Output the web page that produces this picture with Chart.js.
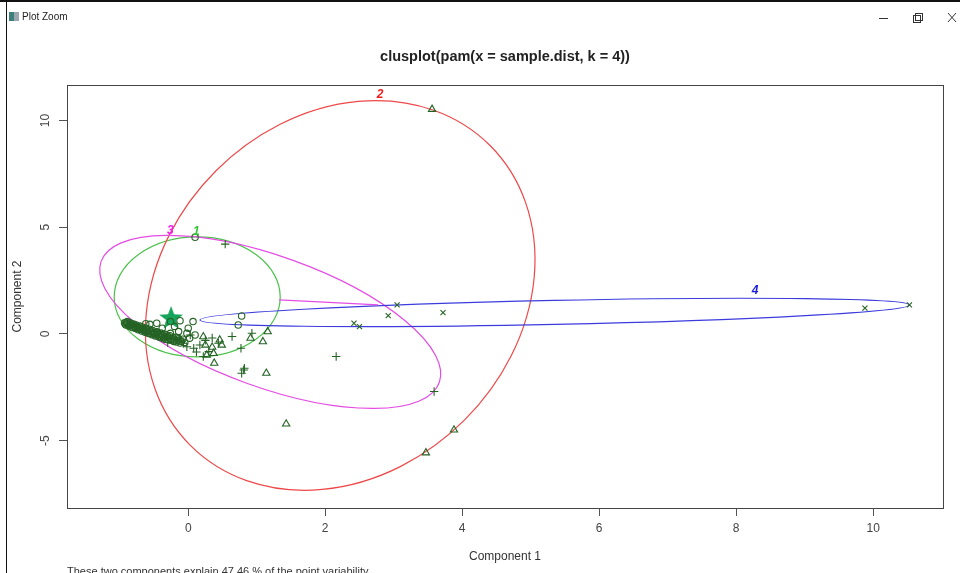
<!DOCTYPE html>
<html>
<head>
<meta charset="utf-8">
<script src="https://cdn.jsdelivr.net/npm/chart.js@4.4.1/dist/chart.umd.min.js"></script>
<style>
  html, body { margin: 0; padding: 0; background: #fff; }
  #wrap { position: relative; width: 960px; height: 573px; }
</style>
</head>
<body>
<div id="wrap"><canvas id="clusChart"></canvas></div>
<script>
// axis ticks
const xTicks = [0, 2, 4, 6, 8, 10];
const yTicks = [-5, 0, 5, 10];

// points per cluster [component1, component2]
const cluster1 = [
  [-0.93, 0.52], [-0.91, 0.42], [-0.89, 0.58], [-0.88, 0.47], [-0.86, 0.36], [-0.85, 0.52],
  [-0.83, 0.42], [-0.82, 0.30], [-0.80, 0.46], [-0.79, 0.36], [-0.77, 0.25], [-0.76, 0.42],
  [-0.74, 0.30], [-0.73, 0.20], [-0.71, 0.37], [-0.70, 0.26], [-0.68, 0.14], [-0.67, 0.32],
  [-0.65, 0.20], [-0.63, 0.08], [-0.62, 0.27], [-0.60, 0.14], [-0.58, 0.02], [-0.57, 0.22],
  [-0.55, 0.09], [-0.53, -0.04], [-0.52, 0.16], [-0.50, 0.03], [-0.48, -0.10], [-0.46, 0.10],
  [-0.44, -0.03], [-0.42, -0.16], [-0.40, 0.04], [-0.38, -0.09], [-0.36, -0.22], [-0.34, -0.02],
  [-0.31, -0.16], [-0.29, -0.29], [-0.27, -0.08], [-0.24, -0.22], [-0.21, -0.35], [-0.18, -0.16],
  [-0.15, -0.30], [-0.12, -0.43], [-0.08, -0.25], [-0.05, -0.40],
  [-0.92, 0.47], [-0.90, 0.53], [-0.87, 0.41], [-0.84, 0.47], [-0.81, 0.38], [-0.78, 0.31],
  [-0.75, 0.36], [-0.72, 0.28], [-0.69, 0.21], [-0.66, 0.25], [-0.64, 0.15], [-0.61, 0.10],
  [-0.59, 0.20], [-0.56, 0.03], [-0.54, 0.13], [-0.51, -0.02], [-0.49, 0.07], [-0.47, -0.05],
  [-0.45, 0.05], [-0.43, -0.10], [-0.41, -0.02], [-0.39, -0.15], [-0.37, -0.05], [-0.35, -0.15],
  [-0.33, -0.25], [-0.30, -0.10], [-0.28, -0.20], [-0.25, -0.30], [-0.22, -0.18], [-0.20, -0.28],
  [-0.17, -0.38], [-0.14, -0.22], [-0.10, -0.35],
  [-0.46, 0.50], [-0.38, 0.27], [-0.26, 0.58], [-0.26, 0.03], [-0.14, 0.11], [-0.12, 0.62],
  [-0.02, 0.03], [0.00, 0.27], [0.07, 0.58], [0.10, -0.05], [0.02, -0.20], [0.73, 0.42],
  [0.78, 0.84], [0.10, 4.53], [-0.56, 0.45], [-0.62, 0.48], [-0.20, 0.35]
];
const cluster2 = [
  [3.56, 10.53], [3.88, -4.50], [3.47, -5.57], [1.43, -4.22], [1.14, -1.84], [1.16, 0.11],
  [1.09, -0.36], [0.38, -1.37], [0.46, -0.28], [0.49, -0.52], [0.25, -0.52], [0.22, -0.13],
  [0.37, -0.91], [0.27, -0.99], [0.91, -0.20], [0.35, -0.62]
];
const cluster3 = [
  [0.54, 4.21], [3.59, -2.70], [2.16, -1.06], [0.78, -1.84], [0.82, -1.61], [0.64, -0.12],
  [0.93, 0.03], [0.77, -0.67], [0.81, -1.69], [0.22, -1.06], [0.08, -0.67], [-0.07, -0.44],
  [0.03, -0.05], [0.30, -0.83], [0.44, -0.44], [-0.19, -0.28], [-0.12, -0.19], [0.17, -0.52],
  [0.35, -0.19], [-0.30, -0.40], [0.25, -0.30], [0.12, -0.85], [-0.02, -0.60]
];
const cluster4 = [
  [3.05, 1.36], [2.92, 0.86], [2.42, 0.50], [2.50, 0.34], [3.72, 1.00], [9.88, 1.21], [10.53, 1.36]
];
const starX = [-0.25];
const starY = [0.75];

// cluster ellipses: centre and two conjugate semi-axes (data units)
const ellipseIds = ['1', '2', '3', '4'];
const ellipseCx = [0.131, 2.219, 1.197, 5.350];
const ellipseCy = [1.735, 1.805, 0.563, 1.008];
const ellipseAx = [1.212, 2.188, 2.469, 5.178];
const ellipseAy = [0.000, 7.028, -2.837, 0.352];
const ellipseBx = [0.000, -1.817, -0.323, -0.004];
const ellipseBy = [2.813, 5.835, -2.897, 0.563];
const labelX = [0.117, 2.803, -0.263, 8.277];
const labelY = [4.78, 11.22, 4.83, 2.016];

// line between clusters 1 and 3
const segX = [1.328, 2.774];
const segY = [1.594, 1.360];

const ellipseColors = ['#4cc24c', '#ee4848', '#e44ce4', '#3c3cde'];
const labelColors = ['#2fc42f', '#f01c1c', '#f01cf0', '#1c1ce0'];
const pointColor = '#256325';
const FONT = "'Liberation Sans', Arial, sans-serif";

const toXY = arr => arr.map(p => ({ x: p[0], y: p[1] }));

// filled star marker
const starImg = document.createElement('canvas');
starImg.width = 26; starImg.height = 26;
(() => {
  const c = starImg.getContext('2d');
  c.fillStyle = '#16a45a';
  c.beginPath();
  for (let k = 0; k < 10; k++) {
    const r = k % 2 ? 5.2 : 12.5;
    const a = -Math.PI / 2 + k * Math.PI / 5;
    const px = 13 + r * Math.cos(a), py = 13.5 + r * Math.sin(a);
    k ? c.lineTo(px, py) : c.moveTo(px, py);
  }
  c.closePath();
  c.fill();
})();

const ellipsePlugin = {
  id: 'ellipses',
  beforeDatasetsDraw(chart) {
    const { ctx, chartArea: a, scales: { x, y } } = chart;
    ctx.save();
    ctx.beginPath();
    ctx.rect(a.left, a.top, a.right - a.left, a.bottom - a.top);
    ctx.clip();
    ellipseCx.forEach((cx, i) => {
      const cy = ellipseCy[i];
      const px = x.getPixelForValue(cx), py = y.getPixelForValue(cy);
      const ax = x.getPixelForValue(cx + ellipseAx[i]) - px;
      const ay = y.getPixelForValue(cy + ellipseAy[i]) - py;
      const bx = x.getPixelForValue(cx + ellipseBx[i]) - px;
      const by = y.getPixelForValue(cy + ellipseBy[i]) - py;
      ctx.save();
      ctx.transform(ax, ay, bx, by, px, py);
      ctx.beginPath();
      ctx.arc(0, 0, 1, 0, Math.PI * 2);
      ctx.restore();
      ctx.strokeStyle = ellipseColors[i];
      ctx.lineWidth = 1.2;
      ctx.stroke();
    });
    ctx.restore();
  },
  afterDatasetsDraw(chart) {
    const { ctx, scales: { x, y } } = chart;
    ctx.save();
    ctx.font = 'italic bold 12px ' + FONT;
    ctx.textAlign = 'center';
    ctx.textBaseline = 'middle';
    ellipseIds.forEach((id, i) => {
      ctx.fillStyle = labelColors[i];
      ctx.fillText(id, x.getPixelForValue(labelX[i]), y.getPixelForValue(labelY[i]));
    });
    ctx.restore();
  }
};

const framePlugin = {
  id: 'frame',
  afterDraw(chart) {
    const { ctx, chartArea: a, scales: { y } } = chart;
    ctx.save();
    // plot box
    ctx.strokeStyle = '#444';
    ctx.lineWidth = 1;
    ctx.strokeRect(a.left + 0.5, a.top + 0.5, a.right - a.left, a.bottom - a.top);
    // y tick labels, vertical as in R
    ctx.fillStyle = '#444';
    ctx.font = '12px ' + FONT;
    ctx.textAlign = 'center';
    ctx.textBaseline = 'middle';
    y.ticks.forEach(t => {
      ctx.save();
      ctx.translate(46, y.getPixelForValue(t.value));
      ctx.rotate(-Math.PI / 2);
      ctx.fillText(String(t.value), 0, 0);
      ctx.restore();
    });
    // titles
    ctx.fillStyle = '#222';
    ctx.font = 'bold 14.5px ' + FONT;
    ctx.fillText('clusplot(pam(x = sample.dist, k = 4))', (a.left + a.right) / 2, 57);
    ctx.fillStyle = '#333';
    ctx.font = '12px ' + FONT;
    ctx.fillText('Component 1', (a.left + a.right) / 2, 557);
    ctx.save();
    ctx.translate(18, (a.top + a.bottom) / 2);
    ctx.rotate(-Math.PI / 2);
    ctx.fillText('Component 2', 0, 0);
    ctx.restore();
    ctx.font = '11px ' + FONT;
    ctx.textAlign = 'left';
    ctx.fillText('These two components explain 47.46 % of the point variability.', 67, 572);
    // window chrome
    ctx.fillStyle = '#111';
    ctx.fillRect(0, 0, 960, 2);
    ctx.fillRect(6, 0, 1, 573);
    ctx.fillStyle = '#3d7f7a';
    ctx.fillRect(9, 12, 5, 9);
    ctx.fillStyle = '#9aa7b0';
    ctx.fillRect(14, 12, 5, 9);
    ctx.fillStyle = '#222';
    ctx.font = '10px ' + FONT;
    ctx.fillText('Plot Zoom', 22, 17);
    ctx.strokeStyle = '#333';
    ctx.beginPath();
    ctx.moveTo(879, 18.5); ctx.lineTo(888, 18.5);
    ctx.stroke();
    ctx.strokeRect(913.5, 15.5, 7, 7);
    ctx.strokeRect(915.5, 13.5, 7, 7);
    ctx.beginPath();
    ctx.moveTo(948, 13); ctx.lineTo(956, 22);
    ctx.moveTo(956, 13); ctx.lineTo(948, 22);
    ctx.stroke();
    ctx.restore();
  }
};

const pointBase = {
  type: 'scatter',
  borderColor: pointColor,
  backgroundColor: 'rgba(0,0,0,0)',
  borderWidth: 1.1,
  pointHoverRadius: 4
};

new Chart(document.getElementById('clusChart'), {
  type: 'scatter',
  data: {
    datasets: [
      { ...pointBase, label: 'cluster 1', data: toXY(cluster1), pointStyle: 'circle', pointRadius: 3.2 },
      { ...pointBase, label: 'cluster 2', data: toXY(cluster2), pointStyle: 'triangle', pointRadius: 4.2 },
      { ...pointBase, label: 'cluster 3', data: toXY(cluster3), pointStyle: 'cross', pointRadius: 4.2 },
      { ...pointBase, label: 'cluster 4', data: toXY(cluster4), pointStyle: 'crossRot', pointRadius: 3.6 },
      { type: 'scatter', label: 'star', data: starX.map((v, i) => ({ x: v, y: starY[i] })),
        pointStyle: starImg, pointRadius: 12 },
      { type: 'line', label: 'segment', data: segX.map((v, i) => ({ x: v, y: segY[i] })),
        borderColor: ellipseColors[2], borderWidth: 1.2, pointRadius: 0, fill: false }
    ]
  },
  options: {
    responsive: true,
    maintainAspectRatio: false,
    animation: false,
    layout: { padding: { top: 85, right: 17, left: 0, bottom: 0 } },
    plugins: { legend: { display: false }, tooltip: { enabled: false }, title: { display: false } },
    scales: {
      x: {
        type: 'linear',
        min: -1.77,
        max: 11.02,
        afterBuildTicks: s => { s.ticks = xTicks.map(v => ({ value: v })); },
        afterFit: s => { s.height = 65; },
        grid: { drawOnChartArea: false, drawTicks: true, tickLength: 8, color: '#555', tickColor: '#555' },
        border: { display: false },
        ticks: { color: '#444', font: { family: FONT, size: 12 }, padding: 5, maxRotation: 0 }
      },
      y: {
        type: 'linear',
        min: -8.16,
        max: 11.67,
        afterBuildTicks: s => { s.ticks = yTicks.map(v => ({ value: v })); },
        afterFit: s => { s.width = 67; },
        grid: { drawOnChartArea: false, drawTicks: true, tickLength: 8, color: '#555', tickColor: '#555' },
        border: { display: false },
        ticks: { display: false }
      }
    }
  },
  plugins: [ellipsePlugin, framePlugin]
});
</script>
</body>
</html>
